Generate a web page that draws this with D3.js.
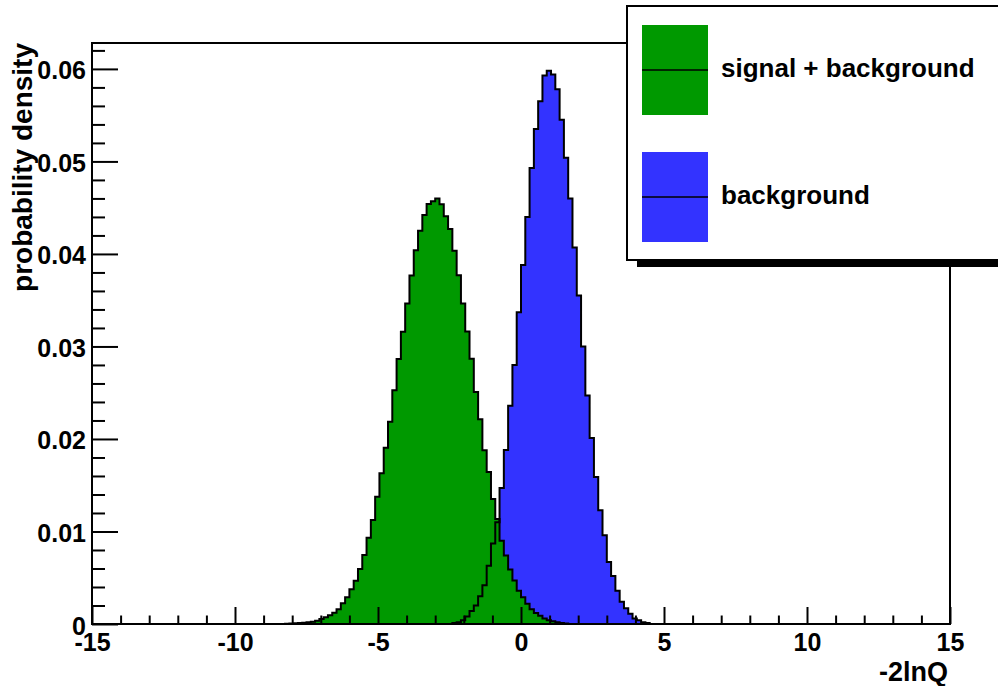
<!DOCTYPE html>
<html>
  <head>
    <meta charset="utf-8">
    <title>-2lnQ distributions</title>
    <style>
      body { margin: 0; background: #fff; }
      svg text { font-family: "Liberation Sans", Arial, Helvetica, sans-serif; font-weight: bold; fill: #000; }
    </style>
  </head>
  <body>
    <div class="chart-area"></div>

    <script src="https://d3js.org/d3.v7.min.js"></script>
    <script>
      // binning of both histograms: 200 bins from -15 to 15
      var xMin = -15, xMax = 15, nBins = 200;

      // signal + background, bin contents starting at bin 45
      var sbFirstBin = 45;
      var sbDensity = [
        0.00003, 0.00005, 0.00008, 0.00011, 0.00014, 0.00018, 0.00024, 0.00036, 0.00054, 0.00072,
        0.00094, 0.00122, 0.00159, 0.00224, 0.00289, 0.00375, 0.00468, 0.00595, 0.00746, 0.00933,
        0.01124, 0.01376, 0.01629, 0.01906, 0.02187, 0.02526, 0.02865, 0.0316, 0.03463, 0.03766,
        0.0404, 0.0425, 0.0442, 0.0454, 0.0457, 0.0460, 0.04536, 0.04407, 0.04269, 0.04034,
        0.0377, 0.03463, 0.03161, 0.02866, 0.02508, 0.02213, 0.01879, 0.01643, 0.01352, 0.01136,
        0.0090, 0.0074, 0.0059, 0.0047, 0.0036, 0.0029, 0.0022, 0.0016, 0.0012, 0.0009,
        0.0006, 0.0004, 0.0003, 0.0002, 0.0001, 0.00005
      ];

      // background only, bin contents starting at bin 84
      var bFirstBin = 84;
      var bDensity = [
        0.0001, 0.0002, 0.0004, 0.0008, 0.0014, 0.0020, 0.0030, 0.0042, 0.0063, 0.0087,
        0.0110, 0.0147, 0.0188, 0.0236, 0.0280, 0.0337, 0.0388, 0.0440, 0.0493, 0.0535,
        0.0565, 0.0593, 0.0598, 0.0594, 0.0578, 0.0545, 0.0504, 0.0460, 0.0407, 0.0355,
        0.0300, 0.0247, 0.0201, 0.0159, 0.0123, 0.0096, 0.0067, 0.0052, 0.0036, 0.0024,
        0.0017, 0.0011, 0.0006, 0.0004, 0.0002, 0.0001
      ];

      var xTicks = [-15, -10, -5, 0, 5, 10, 15];
      var yTicks = [0, 0.01, 0.02, 0.03, 0.04, 0.05, 0.06];
      var legendLabels = ["signal + background", "background"];

      // frame of the pad
      var frame = {left: 92, right: 950, top: 43, bottom: 624};

      var svg = d3.select(".chart-area")
        .append("svg")
          .attr("width", 998)
          .attr("height", 686);

      var x = d3.scaleLinear()
        .domain([xMin, xMax])
        .range([frame.left, frame.right]);

      var y = d3.scaleLinear()
        .domain([0, 0.0628])
        .range([frame.bottom, frame.top]);

      // expand a list of bin contents into step points over the full range
      var binWidth = (xMax - xMin) / nBins;
      function steps(first, values) {
        var pts = [[xMin, 0]];
        for (var i = 0; i < nBins; i++) {
          var v = (i >= first && i < first + values.length) ? values[i - first] : 0;
          var lo = xMin + i * binWidth;
          pts.push([lo, v], [lo + binWidth, v]);
        }
        pts.push([xMax, 0]);
        return pts;
      }

      var sbSteps = steps(sbFirstBin, sbDensity);
      var bSteps = steps(bFirstBin, bDensity);

      var area = d3.area()
        .x(function(d) { return x(d[0]); })
        .y0(y(0))
        .y1(function(d) { return y(d[1]); });

      var line = d3.line()
        .x(function(d) { return x(d[0]); })
        .y(function(d) { return y(d[1]); });

      var colors = ["#009900", "#3333ff"];

      // fills: background first, signal+background on top of it
      svg.append("path").attr("d", area(bSteps)).attr("fill", colors[1]);
      svg.append("path").attr("d", area(sbSteps)).attr("fill", colors[0]);
      // outlines
      svg.append("path").attr("d", line(bSteps))
        .attr("fill", "none").attr("stroke", "#000").attr("stroke-width", 2);
      svg.append("path").attr("d", line(sbSteps))
        .attr("fill", "none").attr("stroke", "#000").attr("stroke-width", 2);

      // X axis, ticks pointing into the frame
      var xMinor = d3.range(-14, 15).filter(function(v) { return v % 5 !== 0; });
      svg.append("g")
        .attr("transform", "translate(0," + frame.bottom + ")")
        .call(d3.axisBottom(x).tickValues(xMinor).tickSize(-8.5).tickFormat(""))
        .call(function(g) { g.select(".domain").remove(); });
      svg.append("g")
        .attr("class", "x-axis")
        .attr("transform", "translate(0," + frame.bottom + ")")
        .call(d3.axisBottom(x).tickValues(xTicks).tickSize(-17).tickPadding(9)
          .tickFormat(function(d) { return String(d); }))
        .call(function(g) { g.select(".domain").remove(); });

      // Y axis
      var yMinor = d3.range(1, 32).map(function(k) { return k * 0.002; })
        .filter(function(v, i) { return (i + 1) % 5 !== 0; });
      svg.append("g")
        .attr("transform", "translate(" + frame.left + ",0)")
        .call(d3.axisLeft(y).tickValues(yMinor).tickSize(-13).tickFormat(""))
        .call(function(g) { g.select(".domain").remove(); });
      svg.append("g")
        .attr("class", "y-axis")
        .attr("transform", "translate(" + frame.left + ",0)")
        .call(d3.axisLeft(y).tickValues(yTicks).tickSize(-26).tickPadding(6)
          .tickFormat(function(d) { return d === 0 ? "0" : d.toFixed(2); }))
        .call(function(g) { g.select(".domain").remove(); });

      svg.selectAll(".tick line").attr("stroke", "#000").attr("stroke-width", 2);
      svg.selectAll(".x-axis text, .y-axis text")
        .attr("font-size", 25)
        .attr("font-family", null)
        .attr("fill", "#000");
      svg.selectAll(".y-axis text").attr("dy", "0.4em");

      // frame
      svg.append("rect")
        .attr("x", frame.left).attr("y", frame.top)
        .attr("width", frame.right - frame.left)
        .attr("height", frame.bottom - frame.top)
        .attr("fill", "none").attr("stroke", "#000").attr("stroke-width", 2);

      // axis titles
      svg.append("text")
        .attr("x", 948).attr("y", 681)
        .attr("text-anchor", "end")
        .attr("font-size", 27)
        .text("-2lnQ");
      svg.append("text")
        .attr("transform", "translate(32," + frame.top + ") rotate(-90)")
        .attr("text-anchor", "end")
        .attr("font-size", 28)
        .text("probability density");

      // legend with shadow
      var legend = svg.append("g");
      legend.append("rect")
        .attr("x", 637).attr("y", 16).attr("width", 420).attr("height", 251)
        .attr("fill", "#000");
      legend.append("rect")
        .attr("x", 627).attr("y", 6).attr("width", 420).attr("height", 254)
        .attr("fill", "#fff").attr("stroke", "#000").attr("stroke-width", 2);

      var entries = legend.selectAll(".entry")
        .data(legendLabels)
        .enter().append("g")
          .attr("transform", function(d, i) { return "translate(0," + (70 + i * 127) + ")"; });
      entries.append("rect")
        .attr("x", 642).attr("y", -45).attr("width", 66).attr("height", 90)
        .attr("fill", function(d, i) { return colors[i]; });
      entries.append("line")
        .attr("x1", 642).attr("x2", 708).attr("y1", 0).attr("y2", 0)
        .attr("stroke", "#000").attr("stroke-width", 1.5);
      entries.append("text")
        .attr("x", 721).attr("y", 7)
        .attr("font-size", 26)
        .text(function(d) { return d; });
    </script>
  </body>
</html>
